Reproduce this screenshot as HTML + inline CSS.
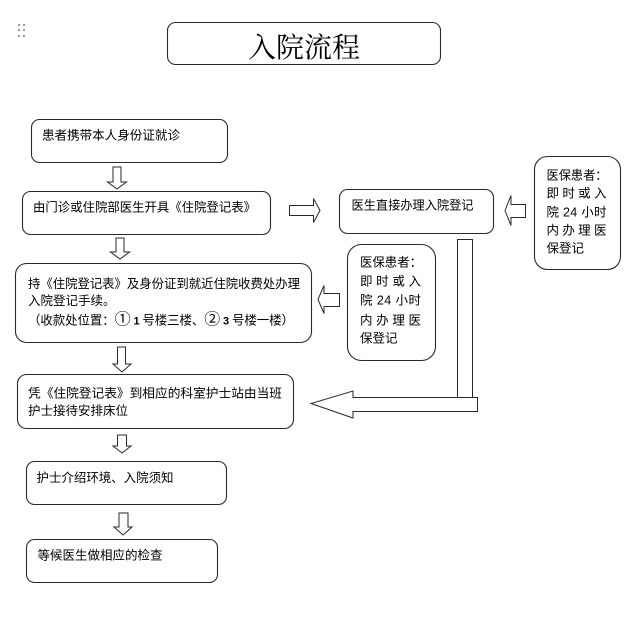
<!DOCTYPE html>
<html>
<head>
<meta charset="utf-8">
<style>
  html, body { margin:0; padding:0; background:#fff; }
  svg { display:block; }
  text { font-family: "Liberation Sans", "Noto Sans CJK SC", sans-serif; font-size:12.5px; fill:#000; }
  .t { font-family: "Liberation Serif", "Noto Serif CJK SC", serif; font-size:28px; }
  .box { fill:#fff; stroke:#2a2a2a; stroke-width:1.1; }
  .ar { fill:#fff; stroke:#2a2a2a; stroke-width:1; }
</style>
</head>
<body>
<svg width="634" height="637" viewBox="0 0 634 637" xmlns="http://www.w3.org/2000/svg">
  <rect x="0" y="0" width="634" height="637" fill="#fff"/>

  <!-- drag dots -->
  <g fill="#999">
    <rect x="18" y="24" width="2" height="2"/><rect x="23" y="24" width="2" height="2"/>
    <rect x="18" y="29" width="2" height="2"/><rect x="23" y="29" width="2" height="2"/>
    <rect x="18" y="35" width="2" height="2"/><rect x="23" y="35" width="2" height="2"/>
  </g>

  <!-- title -->
  <rect class="box" x="167.5" y="22.5" width="273" height="42" rx="8"/>
  <text class="t" x="248" y="57" textLength="112" lengthAdjust="spacingAndGlyphs">入院流程</text>

  <!-- box 1 -->
  <rect class="box" x="31.5" y="119.5" width="196" height="43" rx="8"/>
  <text x="42" y="139.5" textLength="138" lengthAdjust="spacingAndGlyphs">患者携带本人身份证就诊</text>

  <!-- arrow 1 -->
  <polygon class="ar" points="113,167 121,167 121,182 126.5,182 117,189 107.5,182 113,182"/>

  <!-- box 2 -->
  <rect class="box" x="22.5" y="191.5" width="248" height="43" rx="8"/>
  <text x="33" y="211.5" textLength="223" lengthAdjust="spacingAndGlyphs">由门诊或住院部医生开具《住院登记表》</text>

  <!-- right arrow -->
  <polygon class="ar" points="289.5,205.5 313.5,205.5 313.5,198.5 320,210.5 313.5,222.5 313.5,215.5 289.5,215.5"/>

  <!-- box 3 -->
  <rect class="box" x="339.5" y="189.5" width="154" height="44" rx="8"/>
  <text x="351.5" y="209.5" textLength="122" lengthAdjust="spacingAndGlyphs">医生直接办理入院登记</text>

  <!-- left arrow (right side) -->
  <polygon class="ar" points="525.5,204.5 511,204.5 511,195.5 505,210.5 511,225.5 511,217.5 525.5,217.5"/>

  <!-- right box -->
  <rect class="box" x="534.5" y="156.5" width="86" height="113" rx="13"/>
  <text x="546.5" y="179.5" textLength="61" lengthAdjust="spacingAndGlyphs">医保患者：</text>
  <text x="546.5" y="197.5" textLength="60" lengthAdjust="spacing">即 时 或 入</text>
  <text x="546.5" y="216.5" textLength="60" lengthAdjust="spacing">院 24 小时</text>
  <text x="546.5" y="234.5" textLength="60" lengthAdjust="spacing">内 办 理 医</text>
  <text x="546.5" y="252.5">保登记</text>

  <!-- middle box -->
  <rect class="box" x="347.5" y="244.5" width="88" height="116" rx="14"/>
  <text x="360" y="266.5" textLength="62" lengthAdjust="spacingAndGlyphs">医保患者：</text>
  <text x="360" y="285.5" textLength="61" lengthAdjust="spacing">即 时 或 入</text>
  <text x="360" y="304.5" textLength="61" lengthAdjust="spacing">院 24 小时</text>
  <text x="360" y="324.5" textLength="61" lengthAdjust="spacing">内 办 理 医</text>
  <text x="360" y="342.5">保登记</text>

  <!-- middle left arrow -->
  <polygon class="ar" points="339.5,293.5 324,293.5 324,285.5 318,299.5 324,313.5 324,306.5 339.5,306.5"/>

  <!-- vertical bar + big left arrow -->
  <rect class="ar" x="457.5" y="239.5" width="15" height="158"/>
  <polygon class="ar" points="477.5,397.5 353,397.5 353,391 311,403.5 353,418 353,411.5 477.5,411.5"/>

  <!-- arrow 2 -->
  <polygon class="ar" points="116,238 124,238 124,252 129.5,252 120,259 110.5,252 116,252"/>

  <!-- box 4 -->
  <rect class="box" x="15.5" y="263.5" width="296" height="79" rx="11"/>
  <text x="28" y="288" textLength="272" lengthAdjust="spacingAndGlyphs">持《住院登记表》及身份证到就近住院收费处办理</text>
  <text x="28" y="305">入院登记手续。</text>
  <text x="28" y="324.5" textLength="266" lengthAdjust="spacing">（收款处位置：<tspan font-size="16">①</tspan><tspan font-weight="bold" font-size="11"> 1 </tspan>号楼三楼、<tspan font-size="16">②</tspan><tspan font-weight="bold" font-size="11"> 3 </tspan>号楼一楼）</text>

  <!-- arrow 3 -->
  <polygon class="ar" points="117.5,347 125.5,347 125.5,364 131,364 122,372 113,364 117.5,364"/>

  <!-- box 5 -->
  <rect class="box" x="17.5" y="374.5" width="276" height="54" rx="9"/>
  <text x="28" y="397.5" textLength="254" lengthAdjust="spacingAndGlyphs">凭《住院登记表》到相应的科室护士站由当班</text>
  <text x="28" y="415" textLength="100" lengthAdjust="spacingAndGlyphs">护士接待安排床位</text>

  <!-- arrow 4 -->
  <polygon class="ar" points="117.5,435 126.5,435 126.5,446 131,446 122,453 113,446 117.5,446"/>

  <!-- box 6 -->
  <rect class="box" x="26.5" y="461.5" width="200" height="43" rx="8"/>
  <text x="36.5" y="482" textLength="137" lengthAdjust="spacingAndGlyphs">护士介绍环境、入院须知</text>

  <!-- arrow 5 -->
  <polygon class="ar" points="119,513 128,513 128,527 132,527 123,535 114,527 119,527"/>

  <!-- box 7 -->
  <rect class="box" x="26.5" y="539.5" width="191" height="43" rx="8"/>
  <text x="37.5" y="559.5" textLength="125" lengthAdjust="spacingAndGlyphs">等候医生做相应的检查</text>
</svg>
</body>
</html>
